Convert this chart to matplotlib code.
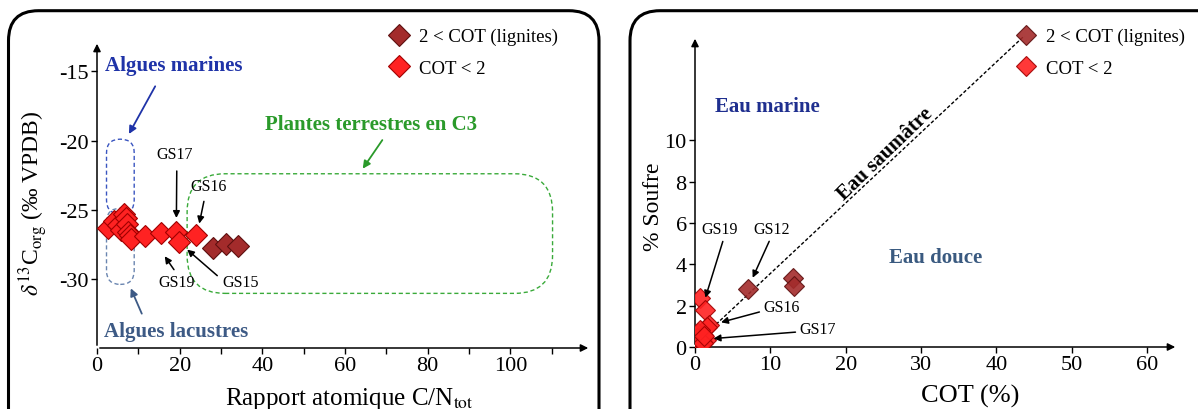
import numpy as np
import matplotlib
matplotlib.use('Agg')
import matplotlib.pyplot as plt
from matplotlib.patches import FancyBboxPatch

plt.rcParams['font.family'] = ['Liberation Serif', 'DejaVu Serif']
plt.rcParams['mathtext.fontset'] = 'stix'
plt.rcParams['axes.unicode_minus'] = False

# panneau gauche : C/N vs d13C
cn_low = [2.6, 4.2, 5.0, 5.8, 6.5, 6.9, 7.2, 7.5, 8.0, 8.3, 11.5, 15.6, 19.1, 19.9, 23.9]
d13c_low = [-26.3, -25.8, -26.1, -26.5, -25.3, -25.6, -26.0, -26.6, -26.8, -27.1,
            -26.9, -26.7, -26.6, -27.3, -26.8]
cn_hi = [28.1, 31.1, 34.2]
d13c_hi = [-27.8, -27.5, -27.6]

# panneau droit : COT vs soufre
cot_low = [0.6, 1.3, 1.9, 1.6, 0.4, 0.8, 0.9, 1.5, 0.5, 0.7, 1.1, 0.3, 1.0, 0.6, 1.2]
s_low = [2.35, 1.8, 1.05, 0.95, 0.7, 0.5, 0.3, 0.35, 0.1, 0.05, 0.6, 0.45, 0.2, 0.8, 0.55]
cot_hi = [7.0, 13.0, 13.1]
s_hi = [2.8, 3.35, 2.95]

# ligne C/S (eau saumatre)
cs_line_x = [2.8, 43.8]
cs_line_y = [1.1, 15.1]

lab_hi = '2 < COT (lignites)'
lab_low = 'COT < 2'

red_face, red_edge = '#ff2222', '#a00000'
dark_face, dark_edge = '#a32b2b', '#5e1010'

W, H = 1198, 410
fig = plt.figure(figsize=(W / 100, H / 100), dpi=100)

# cadres arrondis
for x0, x1 in [(8.5, 599), (630, 1260)]:
    fig.patches.append(FancyBboxPatch((x0 / W, -0.1), (x1 - x0) / W, 1.1 - 11.7 / H,
                                      boxstyle='round,pad=0,rounding_size=0.025',
                                      mutation_aspect=W / H, transform=fig.transFigure,
                                      fill=False, lw=2.2, ec='black'))


def axes_arrows(ax):
    for s in ax.spines.values():
        s.set_visible(False)
    ax.annotate('', xy=(1, 0), xytext=(0, 0), xycoords='axes fraction',
                arrowprops=dict(arrowstyle='-|>', color='k', lw=1.1, mutation_scale=11))
    ax.annotate('', xy=(0, 1), xytext=(0, 0), xycoords='axes fraction',
                arrowprops=dict(arrowstyle='-|>', color='k', lw=1.1, mutation_scale=11))
    ax.tick_params(which='both', direction='out', length=4, width=1, labelsize=16, pad=2)


arrow_k = dict(arrowstyle='-|>', color='k', lw=1.1, mutation_scale=10)
leg_kw = dict(frameon=False, fontsize=13.5, handlelength=1.2, handletextpad=0.45, labelspacing=0.75,
              borderpad=0, borderaxespad=0)

# ---------- gauche ----------
ax1 = fig.add_axes([97 / W, 1 - 349 / H, (591 - 97) / W, (349 - 42) / H])
ax1.set_xlim(0, 119.5)
ax1.set_ylim(-35, -12.8)
axes_arrows(ax1)
ax1.set_xticks([0, 20, 40, 60, 80, 100])
ax1.set_xticks(np.arange(10, 120, 20), minor=True)
ax1.set_yticks([-15, -20, -25, -30])

# enveloppes
px_x = 494 / 119.5
px_y = 307 / 22.2
r = 13.8
for (x0, y0, x1, y1, c) in [(2.3, -25.3, 9.0, -19.9, '#3a55c0'), (2.3, -30.4, 9.0, -24.9, '#6a85b0')]:
    ax1.add_patch(FancyBboxPatch((x0, y0), x1 - x0, y1 - y0,
                                 boxstyle='round,pad=0,rounding_size=%f' % (r / px_x),
                                 mutation_aspect=px_x / px_y, fill=False, ec=c, ls=(0, (3, 2)), lw=1.0))
r = 38
ax1.add_patch(FancyBboxPatch((21.8, -31.05), 110.2 - 21.8, 31.05 - 22.4,
                             boxstyle='round,pad=0,rounding_size=%f' % (r / px_x),
                             mutation_aspect=px_x / px_y, fill=False, ec='#3aaa3a',
                             ls=(0, (3, 2)), lw=1.0))

ax1.plot(cn_hi, d13c_hi, ls='none', marker='D', ms=11, mfc=dark_face, mec=dark_edge, mew=0.8,
         label=lab_hi, zorder=3)
ax1.plot(cn_low, d13c_low, ls='none', marker='D', ms=11, mfc=red_face, mec=red_edge, mew=0.8,
         label=lab_low, zorder=3)

ax1.text(18.6, -14.5, 'Algues marines', color='#1f33a8', fontsize=15, fontweight='bold', ha='center', va='center')
ax1.annotate('', xy=(7.4, -19.7), xytext=(14.4, -15.9), arrowprops=dict(arrowstyle='-|>', color='#1f33a8', lw=1.3, mutation_scale=11))
ax1.text(19.2, -33.8, 'Algues lacustres', color='#3d5a85', fontsize=15, fontweight='bold', ha='center', va='center')
ax1.annotate('', xy=(7.9, -30.5), xytext=(11.1, -32.7), arrowprops=dict(arrowstyle='-|>', color='#3d5a85', lw=1.3, mutation_scale=11))
ax1.text(66.2, -18.8, 'Plantes terrestres en C3', color='#2a9a2a', fontsize=15, fontweight='bold', ha='center', va='center')
ax1.annotate('', xy=(63.9, -22.2), xytext=(69.4, -19.8), arrowprops=dict(arrowstyle='-|>', color='#2a9a2a', lw=1.3, mutation_scale=11))

for txt, tx, ty, hx, hy, sx, sy in [('GS17', 18.7, -21.0, 19.2, -25.8, 19.3, -22.0),
                                     ('GS16', 27.1, -23.3, 24.6, -26.2, 26.0, -24.2),
                                     ('GS19', 19.2, -30.2, 16.0, -28.2, 19.0, -29.5),
                                     ('GS15', 34.7, -30.2, 21.3, -27.75, 29.6, -29.9)]:
    ax1.text(tx, ty, txt, fontsize=11.5, ha='center', va='center')
    ax1.annotate('', xy=(hx, hy), xytext=(sx, sy), arrowprops=arrow_k)

ax1.set_xlabel(r'Rapport atomique C/N$_{\rm tot}$', fontsize=18)
ax1.xaxis.set_label_coords(0.51, -0.12)
ax1.set_ylabel(r'$\delta^{13}$C$_{\rm org}$ (‰ VPDB)', fontsize=17)
ax1.yaxis.set_label_coords(-0.095, 0.475)
ax1.legend(loc='upper left', bbox_to_anchor=(388 / W, 1 - 29 / H), bbox_transform=fig.transFigure, **leg_kw)

# ---------- droite ----------
ax2 = fig.add_axes([695 / W, 1 - 348 / H, (1178 - 695) / W, (348 - 37) / H])
ax2.set_xlim(0, 64.1)
ax2.set_ylim(0, 15.06)
axes_arrows(ax2)
ax2.set_xticks(np.arange(0, 61, 10))
ax2.set_yticks(np.arange(0, 11, 2))

ax2.plot(cs_line_x, cs_line_y, color='k', ls=(0, (2.5, 1.5)), lw=1.0, zorder=2)
ax2.plot(cot_hi, s_hi, ls='none', marker='D', ms=10, mfc=dark_face, mec=dark_edge, mew=0.8,
         alpha=0.9, label=lab_hi, zorder=3)
ax2.plot(cot_low, s_low, ls='none', marker='D', ms=10, mfc=red_face, mec=red_edge, mew=0.8,
         alpha=0.9, label=lab_low, zorder=3)

ax2.text(9.6, 11.66, 'Eau marine', color='#1f2f8f', fontsize=15, fontweight='bold', ha='center', va='center')
ax2.text(31.9, 4.35, 'Eau douce', color='#3a5a80', fontsize=15, fontweight='bold', ha='center', va='center')
ax2.text(25.3, 9.4, 'Eau saumâtre', color='k', fontsize=15, fontweight='bold', ha='center', va='center',
         rotation=44, rotation_mode='anchor')

for txt, tx, ty, hx, hy, sx, sy in [('GS19', 3.3, 5.73, 1.27, 2.26, 3.8, 5.24),
                                     ('GS12', 10.2, 5.73, 7.5, 3.23, 10.0, 5.24),
                                     ('GS16', 11.5, 1.94, 3.1, 1.16, 8.9, 1.73),
                                     ('GS17', 16.3, 0.85, 2.1, 0.4, 13.7, 0.73)]:
    ax2.text(tx, ty, txt, fontsize=11.5, ha='center', va='center')
    ax2.annotate('', xy=(hx, hy), xytext=(sx, sy), arrowprops=arrow_k)

ax2.set_xlabel('COT (%)', fontsize=19)
ax2.xaxis.set_label_coords(0.57, -0.12)
ax2.set_ylabel('% Soufre', fontsize=17)
ax2.yaxis.set_label_coords(-0.065, 0.453)
ax2.legend(loc='upper left', bbox_to_anchor=(1015 / W, 1 - 29 / H), bbox_transform=fig.transFigure, **leg_kw)

fig.savefig('out.png', dpi=100, facecolor='white')
